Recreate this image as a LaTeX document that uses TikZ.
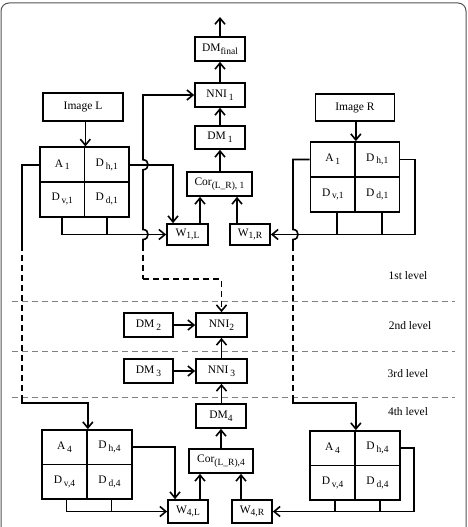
\documentclass[tikz,border=0pt]{standalone}
\usepackage{fontspec}
\setmainfont{Liberation Serif}
\usetikzlibrary{arrows.meta,calc}
\newcommand{\sbx}[1]{\raisebox{-0.55ex}{\fontsize{9.5}{10}\selectfont #1}}
\begin{document}
\begin{tikzpicture}[x=1pt,y=-1pt,
  box/.style={draw, line width=1.7pt, inner sep=0pt, font=\fontsize{11.5}{13}\selectfont},
  cell/.style={box, minimum width=44.5pt, minimum height=35pt},
  conn/.style={line width=1.6pt},
  arr/.style={conn, -{Straight Barb[length=6pt,width=10pt]}},
  dconn/.style={conn, dash pattern=on 6pt off 4pt},
  levelline/.style={gray, line width=1pt, dash pattern=on 6pt off 4pt},
  lbl/.style={font=\fontsize{11.5}{13}\selectfont}]
\useasboundingbox (0,0) rectangle (467,527);
\clip (0,0) rectangle (467,527);
\fill[white] (0,0) rectangle (467,527);
% frame
\draw[gray!65!black, line width=1pt, rounded corners=8pt] (1,545) -- (1,3) -- (466,3) -- (466,545);

% ---- level 1 centre column
\node[box, minimum width=50pt, minimum height=24pt] (dmf) at (220,49) {DM\sbx{final}};
\node[box, minimum width=50pt, minimum height=24pt] (nni1) at (220,95) {NNI\,\sbx{1}};
\node[box, minimum width=50pt, minimum height=23pt] (dm1) at (220,137.5) {DM\,\sbx{1}};
\node[box, minimum width=65pt, minimum height=24pt] (cor1) at (219.5,184) {Cor\sbx{(L\_R), 1}};
\node[box, minimum width=41pt, minimum height=21pt] (w1l) at (187.5,234.5) {W\sbx{1,L}};
\node[box, minimum width=40pt, minimum height=21pt] (w1r) at (250,234.5) {W\sbx{1,R}};
\coordinate (out) at (220,17);

% images
\node[box, minimum width=80pt, minimum height=28pt] (imgL) at (83,107) {Image L};
\node[box, minimum width=79pt, minimum height=27pt] (imgR) at (355,107.5) {Image R};

% left grid level 1
\node[cell] (a1L) at (62.25,164.75) {A\,\sbx{1}};
\node[cell] (dh1L) at (106.75,164.75) {D\,\sbx{h,1}};
\node[cell] (dv1L) at (62.25,199.25) {D\,\sbx{v,1}};
\node[cell] (dd1L) at (106.75,199.25) {D\,\sbx{d,1}};
% right grid level 1
\node[cell] (a1R) at (332.75,159.5) {A\,\sbx{1}};
\node[cell] (dh1R) at (377.25,159.5) {D\,\sbx{h,1}};
\node[cell] (dv1R) at (332.75,194.5) {D\,\sbx{v,1}};
\node[cell] (dd1R) at (377.25,194.5) {D\,\sbx{d,1}};

% levels 2-3
\node[box, minimum width=49pt, minimum height=24pt] (dm2) at (148.5,325) {DM\,\sbx{2}};
\node[box, minimum width=51pt, minimum height=24pt] (nni2) at (221.5,325) {NNI\sbx{2}};
\node[box, minimum width=49pt, minimum height=24pt] (dm3) at (148.5,371) {DM\,\sbx{3}};
\node[box, minimum width=51pt, minimum height=24pt] (nni3) at (221.5,371) {NNI\,\sbx{3}};

% level 4
\node[box, minimum width=50pt, minimum height=24pt] (dm4) at (221,416) {DM\sbx{4}};
\node[box, minimum width=64pt, minimum height=24pt] (cor4) at (221,461) {Cor\sbx{(L\_R),4}};
\node[box, minimum width=40pt, minimum height=23pt] (w4l) at (188,511.5) {W\sbx{4,L}};
\node[box, minimum width=40pt, minimum height=23pt] (w4r) at (252,511.5) {W\sbx{4,R}};
\begin{scope}[cell/.append style={minimum width=45pt, minimum height=34.5pt}]
\node[cell] (a4L) at (64.5,447.25) {A\,\sbx{4}};
\node[cell] (dh4L) at (109.5,447.25) {D\,\sbx{h,4}};
\node[cell] (dv4L) at (64.5,481.75) {D\,\sbx{v,4}};
\node[cell] (dd4L) at (109.5,481.75) {D\,\sbx{d,4}};
\node[cell] (a4R) at (332.5,448.25) {A\,\sbx{4}};
\node[cell] (dh4R) at (377.5,448.25) {D\,\sbx{h,4}};
\node[cell] (dv4R) at (332.5,482.75) {D\,\sbx{v,4}};
\node[cell] (dd4R) at (377.5,482.75) {D\,\sbx{d,4}};
\end{scope}

% level separators and labels
\draw[levelline] (12,301) -- (455,301);
\draw[levelline] (12,351) -- (455,351);
\draw[levelline] (12,397) -- (455,397);
\node[lbl] (l1) at (408,276) {1st level};
\node[lbl] (l2) at (410,326) {2nd level};
\node[lbl] (l3) at (408,374) {3rd level};
\node[lbl] (l4) at (408,412) {4th level};

% ---- connectors level 1
\draw[arr] (dmf.north) -- (out);
\draw[arr] (nni1.north) -- (dmf.south);
\draw[arr] (dm1.north) -- (nni1.south);
\draw[arr] (cor1.north -| dm1.south) -- (dm1.south);
\draw[arr] ([xshift=12.5pt]w1l.north) -- ([xshift=12.5pt]w1l.north |- cor1.south);
\draw[arr] ([xshift=-13pt]w1r.north) -- ([xshift=-13pt]w1r.north |- cor1.south);
\draw[arr] (imgL.south -| a1L.north east) -- (a1L.north east);
\draw[arr] (imgR.south -| a1R.north east) -- (a1R.north east);

% left grid outputs
\draw[arr] (dh1L.east) -| ([xshift=-14.5pt]w1l.north);
\draw[conn] (dv1L.south) -- (dv1L.south |- w1l.west);
\draw[conn] (dd1L.south) -- (dd1L.south |- w1l.west);
\draw[arr] (dv1L.south |- w1l.west) -- (w1l.west);

% right grid outputs
\coordinate (rr1) at (415,0);
\draw[arr] (dh1R.east) -| (rr1 |- w1r.east) -- (w1r.east);
\draw[conn] ([xshift=4.5pt]dv1R.south) -- ([xshift=4.5pt]dv1R.south |- w1r.east);
\draw[conn] ([xshift=4.5pt]dd1R.south) -- ([xshift=4.5pt]dd1R.south |- w1r.east);

% NNI feedback line (x=143) with hops
\coordinate (vM) at (143,245);
\coordinate (vMd) at (143,279);
\draw[arr] (vM) -- ($(vM |- w1l.west)+(0,5)$) .. controls +(6.7,0) and +(6.7,0) .. ($(vM |- w1l.west)+(0,-5)$)
  -- ($(vM |- dh1L.east)+(0,5)$) .. controls +(6.7,0) and +(6.7,0) .. ($(vM |- dh1L.east)+(0,-5)$)
  |- (nni1.west);
\draw[dconn] (vM) -- (vMd);
\draw[dconn, -{Straight Barb[length=6pt,width=10pt]}] (vMd) -| (nni2.north);

% left long line
\coordinate (vL) at (22,245);
\coordinate (vLd) at (22,398);
\draw[conn] (a1L.west) -| (vL);
\draw[dconn] (vL) -- (vLd);
\draw[arr] (vLd) -- ++(0,5) -| (a4L.north east);

% right long line with hop
\coordinate (vR) at (293,245);
\coordinate (vRd) at (293,398);
\draw[conn] (a1R.west) -| ($(vR |- w1r.east)+(0,-5)$) .. controls +(6.7,0) and +(6.7,0) .. ($(vR |- w1r.east)+(0,5)$) -- (vR);
\draw[dconn] (vR) -- (vRd);
\draw[arr] (vRd) -- ++(0,5) -| (a4R.north east);

% levels 2-3 connectors
\draw[arr] (dm2.east) -- (nni2.west);
\draw[arr] (dm3.east) -- (nni3.west);
\draw[arr] (nni3.north) -- (nni2.south);
\draw[arr] (dm4.north -| nni3.south) -- (nni3.south);

% level 4 connectors
\draw[arr] (cor4.north) -- (dm4.south);
\draw[arr] ([xshift=12pt]w4l.north) -- ([xshift=12pt]w4l.north |- cor4.south);
\draw[arr] ([xshift=-11pt]w4r.north) -- ([xshift=-11pt]w4r.north |- cor4.south);
\draw[arr] (dh4L.east) -| ([xshift=-13pt]w4l.north);
\draw[conn] ([xshift=2pt]dv4L.south) -- ([xshift=2pt]dv4L.south |- w4l.west);
\draw[conn] ([xshift=2pt]dd4L.south) -- ([xshift=2pt]dd4L.south |- w4l.west);
\draw[arr] ([xshift=2pt]dv4L.south |- w4l.west) -- (w4l.west);
\coordinate (rr4) at (414,0);
\draw[arr] (dh4R.east) -| (rr4 |- w4r.east) -- (w4r.east);
\draw[conn] ([xshift=2.5pt]dv4R.south) -- ([xshift=2.5pt]dv4R.south |- w4r.east);
\draw[conn] ([xshift=2.5pt]dd4R.south) -- ([xshift=2.5pt]dd4R.south |- w4r.east);
\end{tikzpicture}
\end{document}
